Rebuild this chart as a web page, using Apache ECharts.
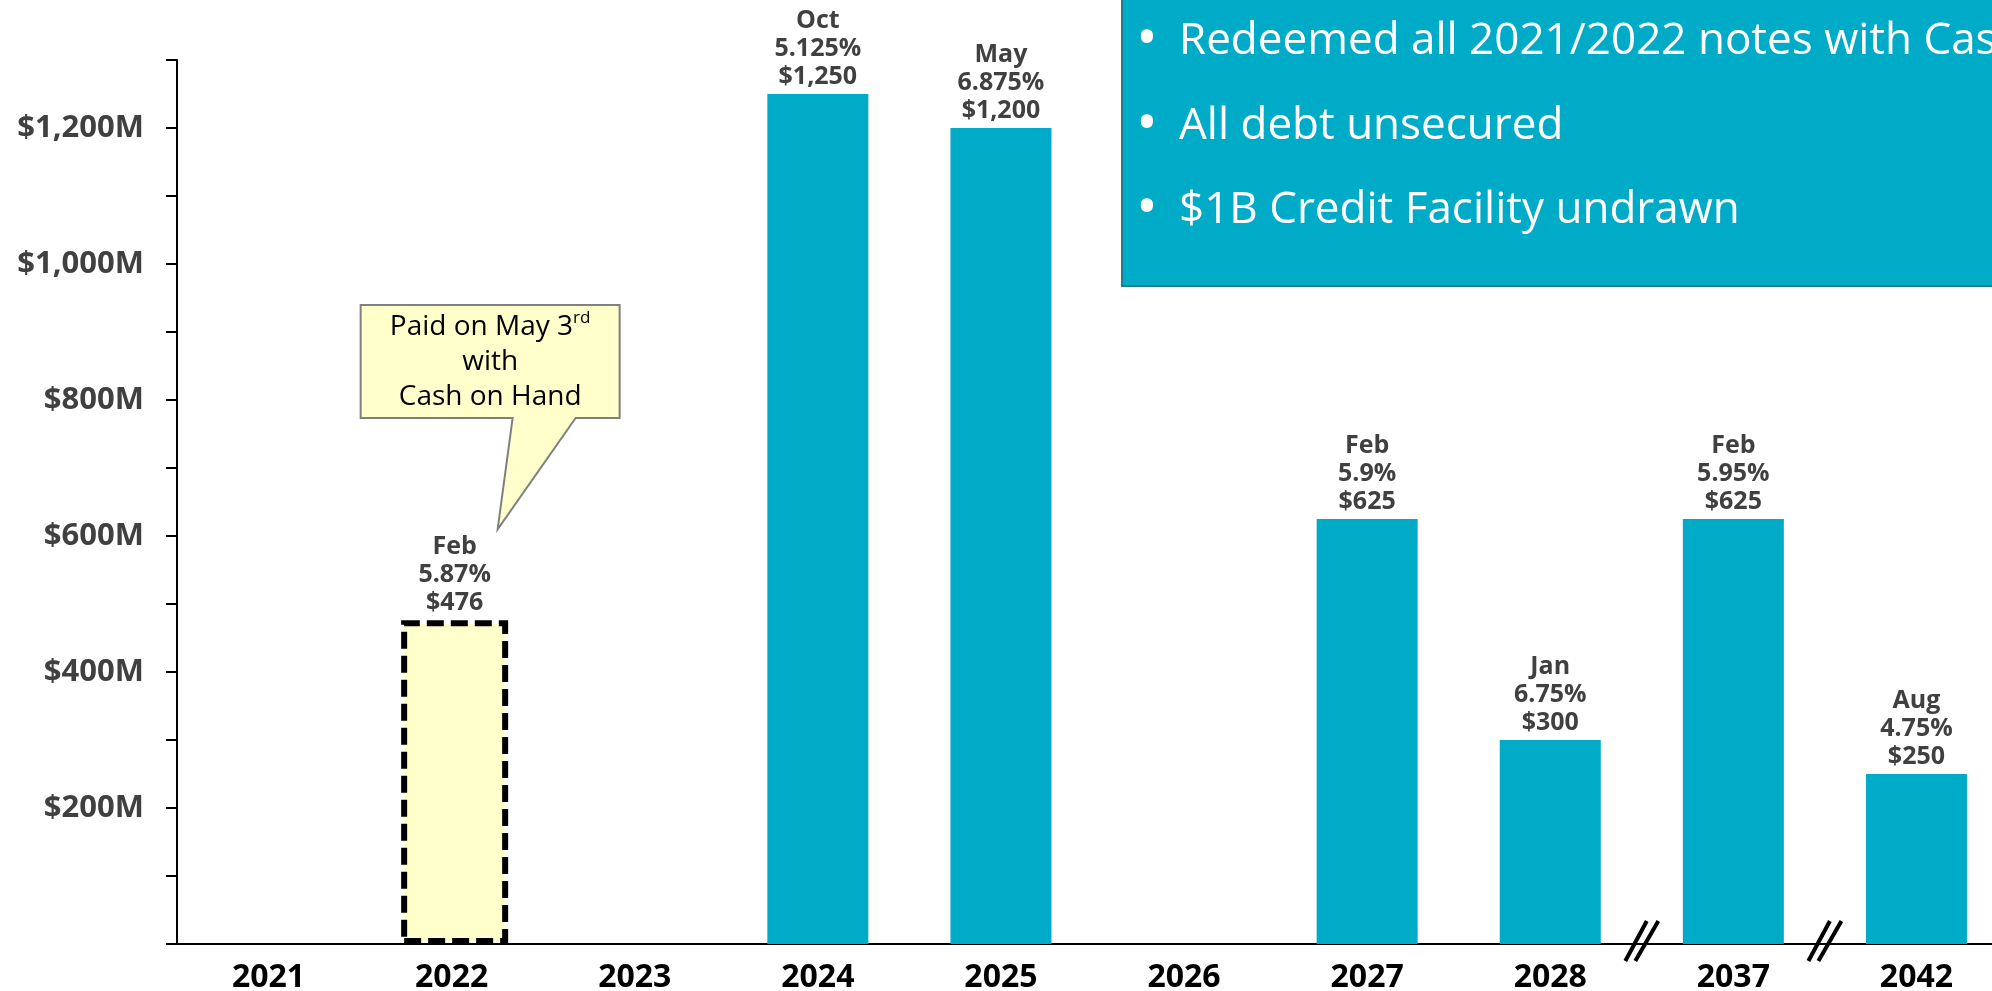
<!DOCTYPE html>
<html>
<head>
<meta charset="utf-8">
<script src="https://cdn.jsdelivr.net/npm/echarts@6/dist/echarts.min.js"></script>
<style>
html,body{margin:0;padding:0;background:#fff;}
#chart{width:1992px;height:991px;}
</style>
</head>
<body>
<div id="chart"></div>
<script>
// ---- data ----
const categories = ['2021','2022','2023','2024','2025','2026','2027','2028','2037','2042'];
const amounts    = [null, 476, null, 1250, 1200, null, 625, 300, 625, 250];
const months     = ['', 'Feb', '', 'Oct', 'May', '', 'Feb', 'Jan', 'Feb', 'Aug'];
const rates      = ['', '5.87%', '', '5.125%', '6.875%', '', '5.9%', '6.75%', '5.95%', '4.75%'];
const yLabelValues = [200, 400, 600, 800, 1000, 1200];
const paidIndex = 1;              // 2022 notes already paid
const breakAfter = [7, 8];        // axis breaks between 2028|2037 and 2037|2042
const notes = [
  'Redeemed all 2021/2022 notes with Cash on Hand',
  'All debt unsecured',
  '$1B Credit Facility undrawn'
];

const TEAL = '#00ABC7';
const FONT = '"Open Sans", "Noto Sans", sans-serif';

function fmt(v){
  return String(v).replace(/\B(?=(\d{3})+(?!\d))/g, ',');
}

const chart = echarts.init(document.getElementById('chart'), null, {renderer:'canvas'});

const paidData = amounts.map((v, i) => i === paidIndex ? v : null);
const openData = amounts.map((v, i) => i === paidIndex ? null : v);

const labelCfg = {
  show: true,
  position: 'top',
  distance: 3,
  color: '#404040',
  fontSize: 25,
  lineHeight: 28,
  fontWeight: 'bold',
  fontFamily: FONT,
  align: 'center',
  formatter: p => months[p.dataIndex] + '\n' + rates[p.dataIndex] + '\n$' + fmt(amounts[p.dataIndex])
};

chart.setOption({
  animation: false,
  backgroundColor: '#fff',
  grid: {left: 177, top: 60, width: 1831, bottom: 47, containLabel: false, outerBoundsMode: 'none'},
  xAxis: {
    type: 'category',
    data: categories,
    axisLine: {lineStyle: {color: '#000', width: 2}},
    axisTick: {show: false},
    axisLabel: {
      interval: 0, color: '#000', fontSize: 32, fontWeight: 'bold',
      fontFamily: FONT, margin: 18
    }
  },
  yAxis: {
    type: 'value',
    min: 0, max: 1300, interval: 100,
    axisLine: {show: true, lineStyle: {color: '#000', width: 2}},
    axisTick: {show: true, inside: false, length: 11, lineStyle: {color: '#000', width: 2}},
    splitLine: {show: false},
    axisLabel: {
      color: '#404040', fontSize: 31, fontWeight: 'bold', fontFamily: FONT, margin: 33,
      formatter: v => yLabelValues.indexOf(v) >= 0 ? '$' + fmt(v) + 'M' : ''
    }
  },
  series: [{
    name: 'paid',
    type: 'bar',
    barWidth: 107,
    barGap: '-100%',
    data: paidData,
    itemStyle: {color: '#FFFFCC', borderColor: '#000', borderWidth: 6, borderType: [17, 7]},
    label: labelCfg
  }, {
    name: 'outstanding',
    type: 'bar',
    barWidth: 101,
    barGap: '-100%',
    data: openData,
    itemStyle: {color: TEAL},
    label: labelCfg
  }]
});

// ---- annotations positioned from the chart's own scales ----
function catX(i){ return chart.convertToPixel({xAxisIndex: 0}, categories[i]); }
function valY(v){ return chart.convertToPixel({yAxisIndex: 0}, v); }

const graphics = [];
const baseY = valY(0);

// axis break markers
breakAfter.forEach(i => {
  const cx = (catX(i) + catX(i + 1)) / 2;
  [[-16.5, 17, 5, -23], [-6.5, 17, 16.5, -23]].forEach(d => {
    graphics.push({
      type: 'line', z: 100,
      shape: {x1: cx + d[0], y1: baseY + d[1], x2: cx + d[2], y2: baseY + d[3]},
      style: {stroke: '#000', lineWidth: 4}
    });
  });
});

// callout for the paid 2022 notes
const pcx = catX(paidIndex);
const bx1 = pcx - 91, bx2 = pcx + 168, by1 = 305, by2 = 418;
const tipX = pcx + 46, tipY = valY(610);
graphics.push({
  type: 'polygon', z: 90,
  shape: {points: [[bx1, by1], [bx2, by1], [bx2, by2], [pcx + 124, by2], [tipX, tipY], [pcx + 61, by2], [bx1, by2]]},
  style: {fill: '#FFFFCC', stroke: '#808080', lineWidth: 2}
});
graphics.push({
  type: 'text', z: 91,
  x: (bx1 + bx2) / 2, y: (by1 + by2) / 2 + 1,
  style: {
    text: 'Paid on May 3{sup|rd}\nwith\nCash on Hand',
    fill: '#000', fontSize: 28, fontFamily: FONT, lineHeight: 35,
    align: 'center', verticalAlign: 'middle',
    rich: {sup: {fontSize: 17, fontFamily: FONT, fill: '#000', verticalAlign: 'top', lineHeight: 35, padding:[0,0,14,0]}}
  }
});

// summary box
graphics.push({
  type: 'rect', z: 95,
  shape: {x: 1122, y: -5, width: 900, height: 291},
  style: {fill: TEAL, stroke: '#1A7E8D', lineWidth: 2}
});
const noteY = [41, 126, 210];
notes.forEach((t, k) => {
  graphics.push({
    type: 'text', z: 96, x: 1147, y: noteY[k],
    style: {text: '•', fill: '#fff', font: '400 58px ' + FONT, align: 'center', verticalAlign: 'middle'}
  });
  graphics.push({
    type: 'text', z: 96, x: 1179, y: noteY[k],
    style: {text: t, fill: '#fff', font: '400 44px ' + FONT, align: 'left', verticalAlign: 'middle'}
  });
});

chart.setOption({graphic: graphics});
</script>
</body>
</html>
